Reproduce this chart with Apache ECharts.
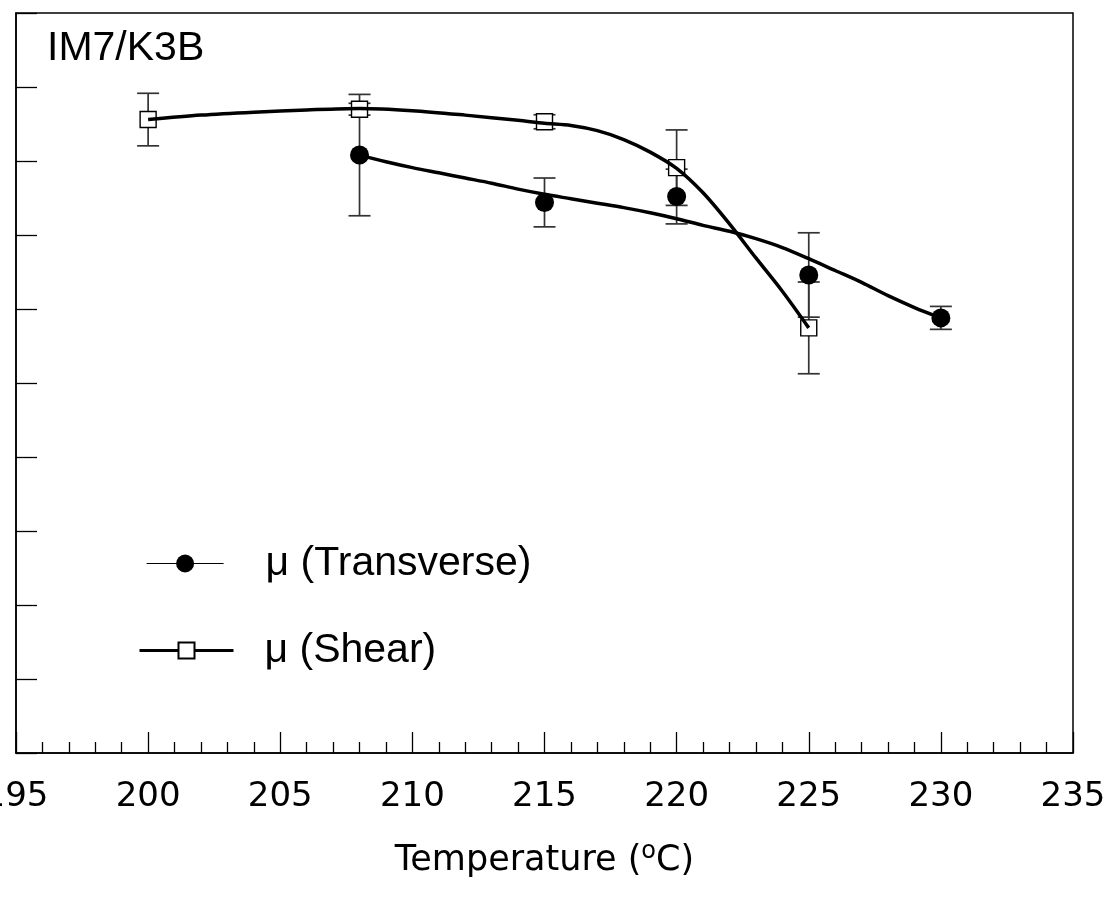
<!DOCTYPE html>
<html>
<head>
<meta charset="utf-8">
<script src="https://cdn.jsdelivr.net/npm/echarts@6/dist/echarts.min.js"></script>
<style>
  html, body { margin: 0; padding: 0; background: #fff; }
  #chart { width: 1112px; height: 898px; }
</style>
</head>
<body>
<div id="chart"></div>
<script>
// Measured friction coefficient vs. temperature, IM7/K3B
const transverseTemp = [208, 215, 220, 225, 230];
const transverseMu   = [8.08, 7.44, 7.52, 6.46, 5.88];
const transverseErr  = [0.82, 0.33, 0.37, 0.57, 0.155];

const shearTemp = [200, 208, 215, 220, 225];
const shearMu   = [8.56, 8.70, 8.53, 7.91, 5.745];
const shearErr  = [0.355, 0.08, 0.095, 0.51, 0.62];

// Fitted trend curves
const transverseFitTemp = [208, 209, 210, 211, 212, 213, 214, 215, 216, 217, 218, 219, 220, 221, 222, 223, 224, 225, 226, 227, 228, 229, 230];
const transverseFit     = [8.08, 7.99, 7.91, 7.84, 7.77, 7.70, 7.62, 7.55, 7.49, 7.43, 7.37, 7.30, 7.22, 7.13, 7.05, 6.95, 6.83, 6.68, 6.52, 6.36, 6.18, 6.02, 5.88];

const shearFitTemp = [200, 202, 204, 206, 208, 210, 212, 214, 215, 216, 217, 218, 219, 220, 221, 222, 223, 224, 225];
const shearFit     = [8.56, 8.62, 8.66, 8.69, 8.71, 8.68, 8.62, 8.55, 8.51, 8.48, 8.41, 8.29, 8.12, 7.90, 7.57, 7.15, 6.69, 6.24, 5.745];

const xMin = 195, xMax = 235, xStep = 5;
const yMin = 0, yMax = 10, yStep = 1;

const zip = (a, b) => a.map((v, i) => [v, b[i]]);
const errRows = (t, v, e) => t.map((x, i) => [x, v[i] - e[i], v[i] + e[i]]);

function errorBar(params, api) {
  const x = api.value(0);
  const lo = api.coord([x, api.value(1)]);
  const hi = api.coord([x, api.value(2)]);
  const hw = 11;
  const st = { stroke: '#333', lineWidth: 1.7 };
  return {
    type: 'group',
    children: [
      { type: 'line', shape: { x1: lo[0], y1: lo[1], x2: hi[0], y2: hi[1] }, style: st },
      { type: 'line', shape: { x1: lo[0] - hw, y1: lo[1], x2: lo[0] + hw, y2: lo[1] }, style: st },
      { type: 'line', shape: { x1: hi[0] - hw, y1: hi[1], x2: hi[0] + hw, y2: hi[1] }, style: st }
    ]
  };
}

const chart = echarts.init(document.getElementById('chart'), null, { renderer: 'canvas' });

const legendFont = '"Liberation Sans", Arial, sans-serif';
const axisFont = '"DejaVu Sans", sans-serif';

chart.setOption({
  animation: false,
  backgroundColor: '#fff',
  grid: {
    left: 16, top: 13, right: 39, bottom: 145,
    containLabel: false, outerBoundsMode: 'none',
    show: true, borderColor: '#000', borderWidth: 1.5, backgroundColor: 'transparent'
  },
  graphic: [{
    type: 'text', left: 47, top: 28,
    style: { text: 'IM7/K3B', font: '41px "Liberation Sans", Arial, sans-serif', fill: '#000' }
  }],
  legend: [
    {
      data: [{ name: 'μ (Transverse)', lineStyle: { width: 1.2, opacity: 1, color: '#000' } }],
      left: 141, top: 538, orient: 'vertical',
      itemWidth: 77, itemHeight: 22.5,
      selectedMode: false,
      textStyle: { fontFamily: legendFont, fontSize: 41, color: '#000', padding: [0, 0, 0, 37] }
    },
    {
      data: [{ name: 'μ (Shear)', lineStyle: { width: 3, opacity: 1, color: '#000' } }],
      left: 133, top: 625, orient: 'vertical',
      itemWidth: 94, itemHeight: 20,
      selectedMode: false,
      textStyle: { fontFamily: legendFont, fontSize: 41, color: '#000', padding: [0, 0, 0, 26] }
    }
  ],
  xAxis: {
    type: 'value', min: xMin, max: xMax, interval: xStep,
    axisLine: { show: true, lineStyle: { color: '#000', width: 1.5 } },
    axisTick: { show: true, inside: true, length: 21, lineStyle: { color: '#000', width: 1.3 } },
    minorTick: { show: true, splitNumber: 5, length: 11, lineStyle: { color: '#000', width: 1.3 } },
    splitLine: { show: false },
    axisLabel: {
      show: true, margin: 27, showMinLabel: true, showMaxLabel: true,
      fontFamily: axisFont, fontSize: 34, color: '#000'
    },
    name: '{a|Temperature (}{s|o}{a|C)}',
    nameLocation: 'middle', nameGap: 87,
    nameTextStyle: {
      rich: {
        a: { fontFamily: axisFont, fontSize: 35, color: '#000', lineHeight: 42 },
        s: { fontFamily: axisFont, fontSize: 24, color: '#000', lineHeight: 24, verticalAlign: 'top' }
      }
    }
  },
  yAxis: {
    type: 'value', min: yMin, max: yMax, interval: yStep,
    axisLine: { show: true, lineStyle: { color: '#000', width: 1.5 } },
    axisTick: { show: true, inside: true, length: 21, lineStyle: { color: '#000', width: 1.3 } },
    splitLine: { show: false },
    axisLabel: { show: false }
  },
  series: [
    {
      type: 'custom', name: 'err-transverse', z: 2,
      renderItem: errorBar, encode: { x: 0, y: [1, 2] },
      data: errRows(transverseTemp, transverseMu, transverseErr)
    },
    {
      type: 'custom', name: 'err-shear', z: 2,
      renderItem: errorBar, encode: { x: 0, y: [1, 2] },
      data: errRows(shearTemp, shearMu, shearErr)
    },
    {
      type: 'line', name: 'μ (Transverse)', z: 3,
      data: zip(transverseTemp, transverseMu),
      symbol: 'circle', symbolSize: 19,
      itemStyle: { color: '#000', borderColor: '#000', borderWidth: 0 },
      lineStyle: { opacity: 0, color: '#000' }
    },
    {
      type: 'line', name: 'μ (Shear)', z: 3,
      data: zip(shearTemp, shearMu),
      symbol: 'rect', symbolSize: 16,
      itemStyle: { color: '#fff', borderColor: '#000', borderWidth: 1.4 },
      lineStyle: { opacity: 0, color: '#000' }
    },
    {
      type: 'line', name: 'fit-transverse', z: 4,
      data: zip(transverseFitTemp, transverseFit),
      symbol: 'none', smooth: 0.3,
      lineStyle: { color: '#000', width: 3.5 }
    },
    {
      type: 'line', name: 'fit-shear', z: 4,
      data: zip(shearFitTemp, shearFit),
      symbol: 'none', smooth: 0.3,
      lineStyle: { color: '#000', width: 3.5 }
    }
  ]
});
</script>
</body>
</html>
